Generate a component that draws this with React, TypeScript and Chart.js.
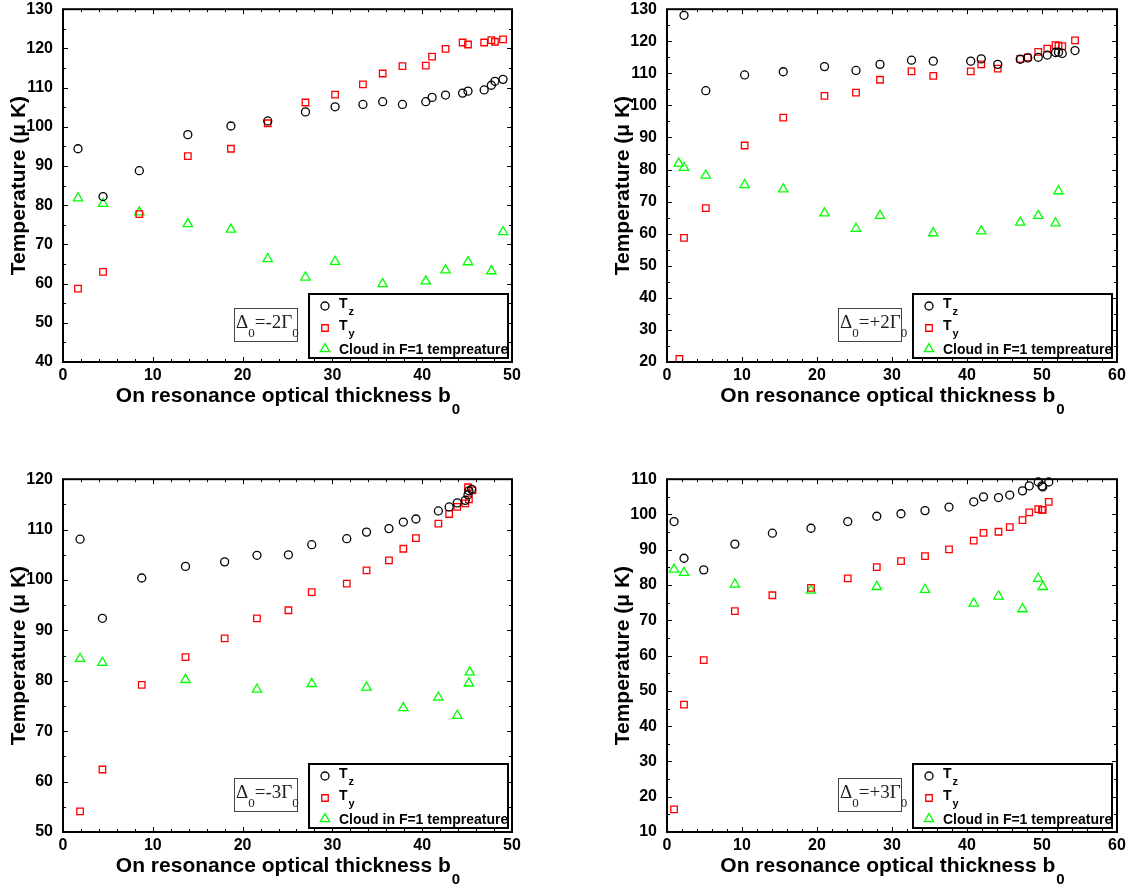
import React, { useEffect, useRef } from "react";
import { Chart, registerables } from "chart.js";

Chart.register(...registerables);

// ---------- Data ----------
// Panel A: Δ0 = -2Γ0
const aTzB0 = [1.67, 4.46, 8.5, 13.9, 18.7, 22.8, 27.0, 30.3, 33.4, 35.6, 37.8, 40.4, 41.1, 42.6, 44.5, 45.1, 46.9, 47.7, 48.1, 49.0];
const aTz = [94.4, 82.2, 88.8, 98.0, 100.2, 101.5, 103.8, 105.1, 105.7, 106.4, 105.7, 106.4, 107.5, 108.1, 108.6, 109.1, 109.4, 110.6, 111.6, 112.1];
const aTyB0 = [1.67, 4.46, 8.5, 13.9, 18.7, 22.8, 27.0, 30.3, 33.4, 35.6, 37.8, 40.4, 41.1, 42.6, 44.5, 45.1, 46.9, 47.7, 48.1, 49.0];
const aTy = [58.7, 63.0, 77.7, 92.5, 94.4, 100.9, 106.2, 108.2, 110.8, 113.6, 115.5, 115.6, 117.9, 119.9, 121.5, 121.0, 121.5, 122.1, 121.7, 122.3];
const aClB0 = [1.67, 4.46, 8.5, 13.9, 18.7, 22.8, 27.0, 30.3, 35.6, 40.4, 42.6, 45.1, 47.7, 49.0];
const aCl = [81.8, 80.4, 78.2, 75.2, 73.8, 66.3, 61.6, 65.6, 59.9, 60.6, 63.4, 65.5, 63.2, 73.2];

// Panel B: Δ0 = +2Γ0
const bTzB0 = [2.27, 5.17, 10.35, 15.5, 21.0, 25.2, 28.4, 32.6, 35.5, 40.5, 41.9, 44.1, 47.1, 48.1, 49.5, 50.7, 51.8, 52.2, 52.7, 54.4];
const bTz = [128.1, 104.6, 109.5, 110.5, 112.1, 110.9, 112.8, 114.1, 113.8, 113.8, 114.5, 112.8, 114.4, 114.8, 115.0, 115.7, 116.5, 116.6, 116.2, 117.1];
const bTyB0 = [1.65, 2.27, 5.17, 10.35, 15.5, 21.0, 25.2, 28.4, 32.6, 35.5, 40.5, 41.9, 44.1, 47.1, 48.1, 49.5, 50.7, 51.8, 52.2, 52.7, 54.4];
const bTy = [21.0, 58.7, 68.0, 87.5, 96.2, 103.0, 104.0, 108.0, 110.6, 109.2, 110.6, 112.8, 111.5, 114.5, 115.0, 116.7, 117.7, 118.8, 118.6, 118.5, 120.3];
const bClB0 = [1.56, 2.27, 5.17, 10.35, 15.5, 21.0, 25.2, 28.4, 35.5, 41.9, 47.1, 49.5, 51.8, 52.2];
const bCl = [81.9, 80.6, 78.2, 75.2, 73.9, 66.4, 61.6, 65.6, 60.2, 60.8, 63.5, 65.6, 63.3, 73.3];

// Panel C: Δ0 = -3Γ0
const cTzB0 = [1.9, 4.39, 8.77, 13.64, 18.0, 21.6, 25.1, 27.7, 31.6, 33.8, 36.3, 37.9, 39.3, 41.8, 43.0, 43.9, 44.8, 45.1, 45.2, 45.5];
const cTz = [108.1, 92.4, 100.4, 102.7, 103.6, 104.9, 105.0, 107.0, 108.2, 109.5, 110.2, 111.5, 112.1, 113.7, 114.5, 115.3, 115.8, 116.9, 117.7, 118.0];
const cTyB0 = [1.9, 4.39, 8.77, 13.64, 18.0, 21.6, 25.1, 27.7, 31.6, 33.8, 36.3, 37.9, 39.3, 41.8, 43.0, 43.9, 44.8, 45.2, 45.1, 45.6];
const cTy = [54.1, 62.4, 79.2, 84.7, 88.4, 92.4, 94.0, 97.6, 99.3, 101.9, 103.9, 106.2, 108.3, 111.2, 113.1, 114.5, 115.2, 116.0, 118.4, 117.8];
const cClB0 = [1.9, 4.39, 13.64, 21.6, 27.7, 33.8, 37.9, 41.8, 43.9, 45.2, 45.3];
const cCl = [84.4, 83.6, 80.2, 78.3, 79.4, 78.7, 74.6, 76.7, 73.1, 79.5, 81.7];

// Panel D: Δ0 = +3Γ0
const dTzB0 = [0.94, 2.27, 4.9, 9.05, 14.05, 19.2, 24.1, 27.97, 31.2, 34.4, 37.6, 40.9, 42.2, 44.2, 45.7, 47.4, 48.3, 49.5, 50.0, 50.1, 50.9];
const dTz = [98.0, 87.6, 84.3, 91.6, 94.7, 96.1, 98.0, 99.5, 100.2, 101.1, 102.1, 103.6, 105.0, 104.8, 105.5, 106.7, 108.1, 109.2, 108.1, 107.8, 109.2];
const dTyB0 = [0.94, 2.27, 4.9, 9.05, 14.05, 19.2, 24.1, 27.97, 31.2, 34.4, 37.6, 40.9, 42.2, 44.2, 45.7, 47.4, 48.3, 49.5, 50.0, 50.1, 50.9];
const dTy = [16.4, 46.1, 58.7, 72.6, 77.1, 79.2, 81.9, 85.1, 86.8, 88.2, 90.1, 92.6, 94.8, 95.1, 96.4, 98.4, 100.6, 101.5, 101.3, 101.3, 103.6];
const dClB0 = [0.94, 2.27, 9.05, 19.2, 27.97, 34.4, 40.9, 44.2, 47.4, 49.5, 50.1];
const dCl = [84.4, 83.5, 80.2, 78.5, 79.5, 78.7, 74.8, 76.8, 73.2, 81.8, 79.5];

// Axis ranges and labels
const xRanges = [[0, 50], [0, 60], [0, 50], [0, 60]];
const yRanges = [[40, 130], [20, 130], [50, 120], [10, 110]];
const detunings = ["-2", "+2", "-3", "+3"];
const seriesNames = ["T", "T", "Cloud in F=1 tempreature"];
const seriesSubs = ["z", "y", ""];
const xTitle = "On resonance optical thickness b";
const xTitleSub = "0";
const yTitle = "Temperature (\u03bc K)";

// ---------- Styling ----------
const SANS = "'Liberation Sans', Arial, Helvetica, sans-serif";
const SERIF = "'Liberation Serif', 'Times New Roman', serif";
const COLORS = ["#000000", "#ff0000", "#00ff00"];
const STYLES = ["circle", "rect", "triangle"];
const RADII = [4, 4.6, 5.4];

function drawMarker(ctx: CanvasRenderingContext2D, style: string, x: number, y: number, r: number, color: string) {
  ctx.save();
  ctx.strokeStyle = color;
  ctx.lineWidth = 1.3;
  ctx.beginPath();
  if (style === "circle") {
    ctx.arc(x, y, r, 0, Math.PI * 2);
  } else if (style === "rect") {
    const s = Math.SQRT1_2 * r;
    ctx.rect(x - s, y - s, 2 * s, 2 * s);
  } else {
    let rad = 0;
    ctx.moveTo(x + Math.sin(rad) * r, y - Math.cos(rad) * r);
    rad += (2 * Math.PI) / 3;
    ctx.lineTo(x + Math.sin(rad) * r, y - Math.cos(rad) * r);
    rad += (2 * Math.PI) / 3;
    ctx.lineTo(x + Math.sin(rad) * r, y - Math.cos(rad) * r);
    ctx.closePath();
  }
  ctx.stroke();
  ctx.restore();
}

const decorPlugin = {
  id: "decor",
  afterDatasetsDraw(chart: any, _args: any, opts: any) {
    const ctx: CanvasRenderingContext2D = chart.ctx;
    const a = chart.chartArea;
    const xs = chart.scales.x;
    const ys = chart.scales.y;
    ctx.save();
    // tick marks (inward, on all four sides)
    ctx.strokeStyle = "#000";
    ctx.lineWidth = 1;
    ctx.beginPath();
    for (let v = xs.min; v <= xs.max + 1e-9; v += 2) {
      const px = Math.round(xs.getPixelForValue(v)) + 0.5;
      const len = Math.abs(v % 10) < 1e-9 ? 5 : 3;
      ctx.moveTo(px, a.bottom);
      ctx.lineTo(px, a.bottom - len);
      ctx.moveTo(px, a.top);
      ctx.lineTo(px, a.top + len);
    }
    for (let v = ys.min; v <= ys.max + 1e-9; v += 5) {
      const py = Math.round(ys.getPixelForValue(v)) + 0.5;
      const len = Math.abs(v % 10) < 1e-9 ? 5 : 3;
      ctx.moveTo(a.left, py);
      ctx.lineTo(a.left + len, py);
      ctx.moveTo(a.right, py);
      ctx.lineTo(a.right - len, py);
    }
    ctx.stroke();
    // frame
    ctx.lineWidth = 2;
    ctx.strokeRect(a.left, a.top, a.right - a.left, a.bottom - a.top);

    // x title with subscript
    ctx.fillStyle = "#000";
    ctx.textBaseline = "alphabetic";
    ctx.font = `bold 21px ${SANS}`;
    const wMain = ctx.measureText(xTitle).width;
    ctx.font = `bold 15px ${SANS}`;
    const wSub = ctx.measureText(xTitleSub).width;
    const cx = (a.left + a.right) / 2;
    const x0 = cx - (wMain + wSub) / 2;
    ctx.font = `bold 21px ${SANS}`;
    ctx.textAlign = "left";
    ctx.fillText(xTitle, x0, a.bottom + 40);
    ctx.font = `bold 15px ${SANS}`;
    ctx.fillText(xTitleSub, x0 + wMain + 1, a.bottom + 52);

    // y title
    ctx.save();
    ctx.translate(a.left - 38, (a.top + a.bottom) / 2);
    ctx.rotate(-Math.PI / 2);
    ctx.font = `bold 21px ${SANS}`;
    ctx.textAlign = "center";
    ctx.fillText(yTitle, 0, 0);
    ctx.restore();

    // annotation box  Δ0 = ±nΓ0
    const bl = a.left + 171, br = a.left + 234, bt = a.bottom - 54, bb = a.bottom - 21;
    ctx.fillStyle = "#fff";
    ctx.fillRect(bl, bt, br - bl, bb - bt);
    ctx.strokeStyle = "#444";
    ctx.lineWidth = 1;
    ctx.strokeRect(bl + 0.5, bt + 0.5, br - bl, bb - bt);
    ctx.fillStyle = "#222";
    ctx.textAlign = "left";
    let tx = bl + 2;
    const base = bt + 20;
    ctx.font = `19px ${SERIF}`;
    ctx.fillText("\u0394", tx, base);
    tx += ctx.measureText("\u0394").width;
    ctx.font = `13px ${SERIF}`;
    ctx.fillText("0", tx, base + 9);
    tx += ctx.measureText("0").width;
    const mid = "=" + opts.det + "\u0393";
    ctx.font = `19px ${SERIF}`;
    ctx.fillText(mid, tx, base);
    tx += ctx.measureText(mid).width;
    ctx.font = `13px ${SERIF}`;
    ctx.fillText("0", tx, base + 9);

    // legend
    const ll = a.left + 246, lr = a.left + 445, lt = a.bottom - 68, lb = a.bottom - 4;
    ctx.fillStyle = "#fff";
    ctx.fillRect(ll, lt, lr - ll, lb - lt);
    ctx.strokeStyle = "#000";
    ctx.lineWidth = 2;
    ctx.strokeRect(ll, lt, lr - ll, lb - lt);
    const rowsY = [a.bottom - 56, a.bottom - 34, a.bottom - 13];
    for (let i = 0; i < 3; i++) {
      drawMarker(ctx, STYLES[i], a.left + 262, rowsY[i], RADII[i], COLORS[i]);
      ctx.fillStyle = "#000";
      ctx.font = `bold 14px ${SANS}`;
      const tb = rowsY[i] + (i === 2 ? 5 : 2);
      ctx.fillText(seriesNames[i], a.left + 276, tb);
      if (seriesSubs[i]) {
        const w = ctx.measureText(seriesNames[i]).width;
        ctx.font = `bold 11px ${SANS}`;
        ctx.fillText(seriesSubs[i], a.left + 276 + w + 1, tb + 7);
      }
    }
    ctx.restore();
  },
};

type PanelDef = {
  left: number; top: number; width: number; height: number;
  idx: number;
  tzX: number[]; tz: number[]; tyX: number[]; ty: number[]; clX: number[]; cl: number[];
};

const PLOT_LEFT = 63;
const PLOT_TOP = 7.5;
const PLOT_BOTTOM = 362;

const panels: PanelDef[] = [
  { left: 0, top: 0, width: 604, height: 470, idx: 0, tzX: aTzB0, tz: aTz, tyX: aTyB0, ty: aTy, clX: aClB0, cl: aCl },
  { left: 604, top: 0, width: 525, height: 470, idx: 1, tzX: bTzB0, tz: bTz, tyX: bTyB0, ty: bTy, clX: bClB0, cl: bCl },
  { left: 0, top: 470, width: 604, height: 416, idx: 2, tzX: cTzB0, tz: cTz, tyX: cTyB0, ty: cTy, clX: cClB0, cl: cCl },
  { left: 604, top: 470, width: 525, height: 416, idx: 3, tzX: dTzB0, tz: dTz, tyX: dTyB0, ty: dTy, clX: dClB0, cl: dCl },
];

function zip(xs: number[], ys: number[]) {
  return xs.map((x, i) => ({ x, y: ys[i] }));
}

function Panel({ p }: { p: PanelDef }) {
  const ref = useRef<HTMLCanvasElement | null>(null);
  useEffect(() => {
    if (!ref.current) return;
    const [xMin, xMax] = xRanges[p.idx];
    const [yMin, yMax] = yRanges[p.idx];
    const rightPad = p.width - (p.idx % 2 === 0 ? 512 : 513);
    const tickFont = { family: SANS, size: 16, weight: "bold" as const, lineHeight: 0.9 };
    const mk = (data: any[], i: number) => ({
      label: seriesNames[i] + seriesSubs[i],
      data,
      showLine: false,
      pointStyle: STYLES[i],
      pointRadius: RADII[i],
      pointHoverRadius: RADII[i],
      pointBorderColor: COLORS[i],
      pointBackgroundColor: "rgba(0,0,0,0)",
      pointBorderWidth: 1.3,
      borderColor: COLORS[i],
      backgroundColor: "rgba(0,0,0,0)",
      clip: false,
    });
    const chart = new Chart(ref.current, {
      type: "scatter",
      data: {
        datasets: [
          mk(zip(p.tzX, p.tz), 0),
          mk(zip(p.tyX, p.ty), 1),
          mk(zip(p.clX, p.cl), 2),
        ],
      },
      options: {
        animation: false,
        responsive: false,
        devicePixelRatio: 1,
        events: [],
        layout: { padding: { left: 0, top: PLOT_TOP, right: rightPad, bottom: 0 } },
        plugins: {
          legend: { display: false },
          tooltip: { enabled: false },
          decor: { det: detunings[p.idx] },
        } as any,
        scales: {
          x: {
            type: "linear",
            min: xMin,
            max: xMax,
            grid: { display: false },
            border: { display: false },
            ticks: {
              stepSize: 10,
              autoSkip: false,
              maxRotation: 0,
              color: "#000",
              font: tickFont,
              padding: -2,
            },
            afterFit: (s: any) => {
              s.height = p.height - PLOT_BOTTOM;
            },
          },
          y: {
            type: "linear",
            min: yMin,
            max: yMax,
            grid: { display: false },
            border: { display: false },
            ticks: {
              stepSize: 10,
              autoSkip: false,
              color: "#000",
              font: tickFont,
              padding: 2,
            },
            afterFit: (s: any) => {
              s.width = PLOT_LEFT;
            },
          },
        },
      } as any,
      plugins: [decorPlugin as any],
    });
    return () => chart.destroy();
  }, [p]);
  return (
    <canvas
      ref={ref}
      width={p.width}
      height={p.height}
      style={{ position: "absolute", left: p.left, top: p.top, width: p.width, height: p.height }}
    />
  );
}

export default function App() {
  return (
    <div
      style={{
        position: "absolute",
        left: 0,
        top: 0,
        width: 1129,
        height: 886,
        background: "#fff",
        overflow: "hidden",
      }}
    >
      {panels.map((p) => (
        <Panel key={p.idx} p={p} />
      ))}
    </div>
  );
}
